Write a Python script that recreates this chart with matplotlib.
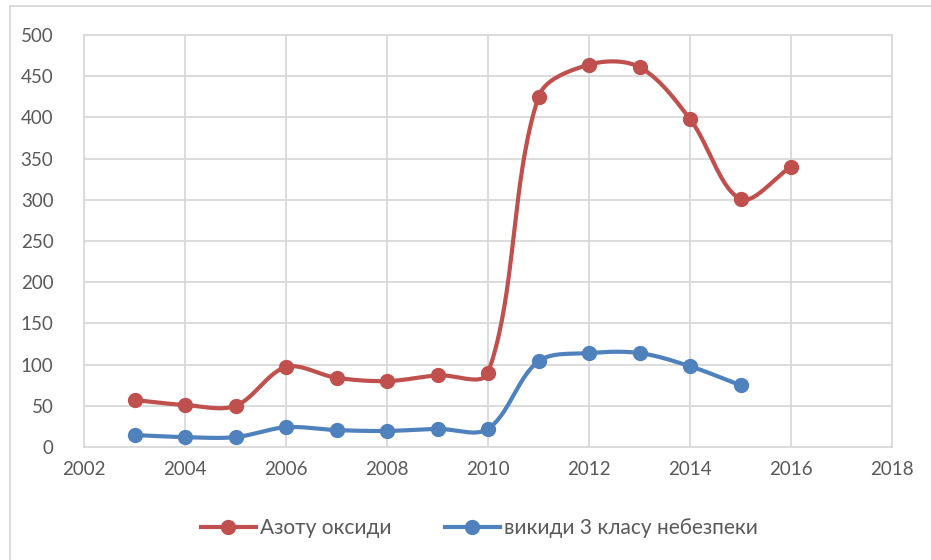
import numpy as np
import matplotlib
matplotlib.use("Agg")
import matplotlib.pyplot as plt
from matplotlib.lines import Line2D

plt.rcParams['font.family'] = ['Lato', 'DejaVu Sans']

years_red = [2003, 2004, 2005, 2006, 2007, 2008, 2009, 2010, 2011, 2012, 2013, 2014, 2015, 2016]
azotu = [57, 51, 50, 97, 84, 80, 87, 90, 425, 464, 461, 398, 301, 340]
years_blue = [2003, 2004, 2005, 2006, 2007, 2008, 2009, 2010, 2011, 2012, 2013, 2014, 2015]
vykydy = [14.5, 12, 12, 24, 20.5, 19.5, 22, 22, 104, 114, 114, 98, 75]

label_red = "Азоту оксиди"
label_blue = "викиди 3 класу небезпеки"
red = "#C0504D"
blue = "#4F81BD"
txt = "#595959"

# pixel size of one data unit, used to measure segment lengths on screen
sx_px = 808 / 16
sy_px = 412 / 500


def smooth(x, y, n=40, tension=1 / 3):
    # excel-like smoothed line: bezier with tangents scaled by segment length
    p = np.column_stack([np.asarray(x, float) * sx_px, np.asarray(y, float) * sy_px])
    p = np.vstack([p[0], p, p[-1]])
    t = np.linspace(0, 1, n)[:, None]
    out = []
    for i in range(1, len(p) - 2):
        p0, p1, p2, p3 = p[i - 1], p[i], p[i + 1], p[i + 2]
        d01 = np.hypot(*(p1 - p0))
        d12 = np.hypot(*(p2 - p1))
        d23 = np.hypot(*(p3 - p2))
        c1 = p1 + (p2 - p0) * tension * d12 / max(d01 + d12, 1e-9)
        c2 = p2 - (p3 - p1) * tension * d12 / max(d12 + d23, 1e-9)
        b = (1 - t) ** 3 * p1 + 3 * (1 - t) ** 2 * t * c1 + 3 * (1 - t) * t ** 2 * c2 + t ** 3 * p2
        out.append(b)
    out = np.vstack(out)
    return out[:, 0] / sx_px, out[:, 1] / sy_px


fig = plt.figure(figsize=(9.31, 5.6), dpi=100)
ax = fig.add_axes([84 / 931, 113 / 560, 808 / 931, 412 / 560])

for xx, yy, c in [(years_red, azotu, red), (years_blue, vykydy, blue)]:
    lx, ly = smooth(xx, yy)
    ax.plot(lx, ly, color=c, lw=3, solid_capstyle='round', zorder=3)
    ax.plot(xx, yy, 'o', color=c, ms=10, zorder=4)

ax.set_xlim(2002, 2018)
ax.set_ylim(0, 500)
ax.set_xticks(range(2002, 2019, 2))
ax.set_yticks(range(0, 501, 50))
ax.grid(True, color="#D9D9D9", lw=1.3)
ax.set_axisbelow(True)
for s in ax.spines.values():
    s.set_color("#D9D9D9")
    s.set_linewidth(1.3)
ax.tick_params(length=0, labelsize=13.5, colors=txt, pad=10)
ax.tick_params(axis='y', pad=22)

handles = [Line2D([], [], color=red, lw=3, marker='o', ms=10),
           Line2D([], [], color=blue, lw=3, marker='o', ms=10)]
fig.legend(handles, [label_red, label_blue], loc='center', bbox_to_anchor=(0.515, 32 / 560),
           ncol=2, frameon=False, fontsize=15, labelcolor=txt, handlelength=2.6,
           columnspacing=2.6, handletextpad=0.2)

fig.add_artist(Line2D([10 / 931, 1], [1 - 6 / 560, 1 - 6 / 560], color="#D9D9D9", lw=1.3))
fig.add_artist(Line2D([10 / 931, 10 / 931], [0, 1 - 6 / 560], color="#D9D9D9", lw=1.3))

fig.savefig("out.png", dpi=100)
